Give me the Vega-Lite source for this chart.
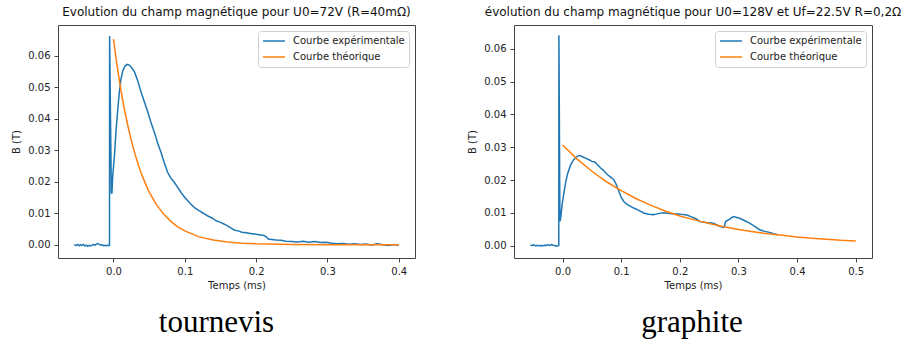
{
  "$schema": "https://vega.github.io/schema/vega-lite/v6.json",
  "padding": {"left": 11, "top": 5, "right": 0, "bottom": 0},
  "background": "white",
  "config": {
    "view": {"stroke": "#444", "strokeWidth": 1},
    "axis": {"labelFont": "DejaVu Sans", "labelFontSize": 10, "labelColor": "#222", "titleFont": "DejaVu Sans", "titleFontSize": 10, "titleFontWeight": "normal", "titleColor": "#222", "tickColor": "#444", "tickSize": 4, "domain": false, "grid": false, "labelPadding": 4},
    "axisY": {"titlePadding": 6},
    "axisX": {"titlePadding": 4},
    "title": {"font": "DejaVu Sans", "fontSize": 12, "fontWeight": "normal", "color": "#111", "offset": 6},
    "legend": {"orient": "top-right", "offset": 6, "padding": 4, "strokeColor": "#d0d0d0", "cornerRadius": 3, "fillColor": "white", "labelFont": "DejaVu Sans", "labelFontSize": 10, "labelColor": "#222", "symbolType": "stroke", "symbolStrokeWidth": 1.5, "symbolSize": 484, "labelOffset": 7, "rowPadding": 4, "clipHeight": 12}
  },
  "datasets": {
    "tournevis": [
      {"t": -0.055, "B": 0.0000, "s": "Courbe expérimentale"},
      {"t": -0.052, "B": -0.0002, "s": "Courbe expérimentale"},
      {"t": -0.050, "B": 0.0001, "s": "Courbe expérimentale"},
      {"t": -0.048, "B": -0.0003, "s": "Courbe expérimentale"},
      {"t": -0.046, "B": 0.0000, "s": "Courbe expérimentale"},
      {"t": -0.044, "B": -0.0002, "s": "Courbe expérimentale"},
      {"t": -0.042, "B": 0.0001, "s": "Courbe expérimentale"},
      {"t": -0.040, "B": -0.0004, "s": "Courbe expérimentale"},
      {"t": -0.038, "B": -0.0001, "s": "Courbe expérimentale"},
      {"t": -0.036, "B": -0.0005, "s": "Courbe expérimentale"},
      {"t": -0.034, "B": -0.0002, "s": "Courbe expérimentale"},
      {"t": -0.032, "B": -0.0004, "s": "Courbe expérimentale"},
      {"t": -0.030, "B": -0.0001, "s": "Courbe expérimentale"},
      {"t": -0.028, "B": 0.0001, "s": "Courbe expérimentale"},
      {"t": -0.026, "B": -0.0002, "s": "Courbe expérimentale"},
      {"t": -0.024, "B": 0.0002, "s": "Courbe expérimentale"},
      {"t": -0.022, "B": 0.0004, "s": "Courbe expérimentale"},
      {"t": -0.020, "B": 0.0001, "s": "Courbe expérimentale"},
      {"t": -0.018, "B": -0.0001, "s": "Courbe expérimentale"},
      {"t": -0.016, "B": 0.0000, "s": "Courbe expérimentale"},
      {"t": -0.014, "B": -0.0003, "s": "Courbe expérimentale"},
      {"t": -0.012, "B": -0.0002, "s": "Courbe expérimentale"},
      {"t": -0.010, "B": -0.0004, "s": "Courbe expérimentale"},
      {"t": -0.008, "B": -0.0001, "s": "Courbe expérimentale"},
      {"t": -0.0060, "B": -0.0003, "s": "Courbe expérimentale"},
      {"t": -0.0056, "B": -0.0002, "s": "Courbe expérimentale"},
      {"t": -0.0054, "B": 0.0662, "s": "Courbe expérimentale"},
      {"t": -0.0030, "B": 0.0164, "s": "Courbe expérimentale"},
      {"t": -0.0022, "B": 0.0164, "s": "Courbe expérimentale"},
      {"t": -0.0010, "B": 0.0220, "s": "Courbe expérimentale"},
      {"t": 0.0014, "B": 0.0284, "s": "Courbe expérimentale"},
      {"t": 0.0035, "B": 0.0360, "s": "Courbe expérimentale"},
      {"t": 0.0061, "B": 0.0432, "s": "Courbe expérimentale"},
      {"t": 0.0085, "B": 0.0490, "s": "Courbe expérimentale"},
      {"t": 0.0107, "B": 0.0528, "s": "Courbe expérimentale"},
      {"t": 0.013, "B": 0.0551, "s": "Courbe expérimentale"},
      {"t": 0.016, "B": 0.0566, "s": "Courbe expérimentale"},
      {"t": 0.019, "B": 0.0572, "s": "Courbe expérimentale"},
      {"t": 0.022, "B": 0.0570, "s": "Courbe expérimentale"},
      {"t": 0.025, "B": 0.0563, "s": "Courbe expérimentale"},
      {"t": 0.0293, "B": 0.0549, "s": "Courbe expérimentale"},
      {"t": 0.034, "B": 0.0520, "s": "Courbe expérimentale"},
      {"t": 0.0386, "B": 0.0485, "s": "Courbe expérimentale"},
      {"t": 0.043, "B": 0.0455, "s": "Courbe expérimentale"},
      {"t": 0.048, "B": 0.0422, "s": "Courbe expérimentale"},
      {"t": 0.052, "B": 0.0392, "s": "Courbe expérimentale"},
      {"t": 0.0572, "B": 0.0358, "s": "Courbe expérimentale"},
      {"t": 0.062, "B": 0.0322, "s": "Courbe expérimentale"},
      {"t": 0.0665, "B": 0.0294, "s": "Courbe expérimentale"},
      {"t": 0.071, "B": 0.0262, "s": "Courbe expérimentale"},
      {"t": 0.0759, "B": 0.0230, "s": "Courbe expérimentale"},
      {"t": 0.080, "B": 0.0213, "s": "Courbe expérimentale"},
      {"t": 0.085, "B": 0.0199, "s": "Courbe expérimentale"},
      {"t": 0.090, "B": 0.0182, "s": "Courbe expérimentale"},
      {"t": 0.095, "B": 0.0165, "s": "Courbe expérimentale"},
      {"t": 0.100, "B": 0.0150, "s": "Courbe expérimentale"},
      {"t": 0.1084, "B": 0.0129, "s": "Courbe expérimentale"},
      {"t": 0.114, "B": 0.0117, "s": "Courbe expérimentale"},
      {"t": 0.120, "B": 0.0108, "s": "Courbe expérimentale"},
      {"t": 0.126, "B": 0.0100, "s": "Courbe expérimentale"},
      {"t": 0.1317, "B": 0.0092, "s": "Courbe expérimentale"},
      {"t": 0.138, "B": 0.0085, "s": "Courbe expérimentale"},
      {"t": 0.144, "B": 0.0076, "s": "Courbe expérimentale"},
      {"t": 0.150, "B": 0.0071, "s": "Courbe expérimentale"},
      {"t": 0.1548, "B": 0.0066, "s": "Courbe expérimentale"},
      {"t": 0.160, "B": 0.0060, "s": "Courbe expérimentale"},
      {"t": 0.165, "B": 0.0053, "s": "Courbe expérimentale"},
      {"t": 0.170, "B": 0.0046, "s": "Courbe expérimentale"},
      {"t": 0.175, "B": 0.0044, "s": "Courbe expérimentale"},
      {"t": 0.180, "B": 0.0040, "s": "Courbe expérimentale"},
      {"t": 0.186, "B": 0.0038, "s": "Courbe expérimentale"},
      {"t": 0.192, "B": 0.0036, "s": "Courbe expérimentale"},
      {"t": 0.198, "B": 0.0034, "s": "Courbe expérimentale"},
      {"t": 0.204, "B": 0.0032, "s": "Courbe expérimentale"},
      {"t": 0.210, "B": 0.0030, "s": "Courbe expérimentale"},
      {"t": 0.214, "B": 0.0026, "s": "Courbe expérimentale"},
      {"t": 0.217, "B": 0.0018, "s": "Courbe expérimentale"},
      {"t": 0.222, "B": 0.0017, "s": "Courbe expérimentale"},
      {"t": 0.228, "B": 0.0015, "s": "Courbe expérimentale"},
      {"t": 0.235, "B": 0.0014, "s": "Courbe expérimentale"},
      {"t": 0.242, "B": 0.0011, "s": "Courbe expérimentale"},
      {"t": 0.250, "B": 0.0010, "s": "Courbe expérimentale"},
      {"t": 0.258, "B": 0.0009, "s": "Courbe expérimentale"},
      {"t": 0.266, "B": 0.0011, "s": "Courbe expérimentale"},
      {"t": 0.274, "B": 0.0008, "s": "Courbe expérimentale"},
      {"t": 0.282, "B": 0.0010, "s": "Courbe expérimentale"},
      {"t": 0.290, "B": 0.0007, "s": "Courbe expérimentale"},
      {"t": 0.298, "B": 0.0008, "s": "Courbe expérimentale"},
      {"t": 0.306, "B": 0.0005, "s": "Courbe expérimentale"},
      {"t": 0.314, "B": 0.0003, "s": "Courbe expérimentale"},
      {"t": 0.322, "B": 0.0004, "s": "Courbe expérimentale"},
      {"t": 0.330, "B": 0.0002, "s": "Courbe expérimentale"},
      {"t": 0.338, "B": 0.0003, "s": "Courbe expérimentale"},
      {"t": 0.346, "B": 0.0001, "s": "Courbe expérimentale"},
      {"t": 0.354, "B": 0.0002, "s": "Courbe expérimentale"},
      {"t": 0.362, "B": -0.0001, "s": "Courbe expérimentale"},
      {"t": 0.370, "B": 0.0003, "s": "Courbe expérimentale"},
      {"t": 0.378, "B": 0.0000, "s": "Courbe expérimentale"},
      {"t": 0.386, "B": -0.0002, "s": "Courbe expérimentale"},
      {"t": 0.394, "B": 0.0001, "s": "Courbe expérimentale"},
      {"t": 0.400, "B": -0.0002, "s": "Courbe expérimentale"},
      {"t": 0.000, "B": 0.0652, "s": "Courbe théorique"},
      {"t": 0.005, "B": 0.0568, "s": "Courbe théorique"},
      {"t": 0.010, "B": 0.0496, "s": "Courbe théorique"},
      {"t": 0.015, "B": 0.0433, "s": "Courbe théorique"},
      {"t": 0.020, "B": 0.0379, "s": "Courbe théorique"},
      {"t": 0.025, "B": 0.0331, "s": "Courbe théorique"},
      {"t": 0.030, "B": 0.0289, "s": "Courbe théorique"},
      {"t": 0.035, "B": 0.0252, "s": "Courbe théorique"},
      {"t": 0.040, "B": 0.0220, "s": "Courbe théorique"},
      {"t": 0.045, "B": 0.0193, "s": "Courbe théorique"},
      {"t": 0.050, "B": 0.0168, "s": "Courbe théorique"},
      {"t": 0.060, "B": 0.0128, "s": "Courbe théorique"},
      {"t": 0.070, "B": 0.0098, "s": "Courbe théorique"},
      {"t": 0.080, "B": 0.0075, "s": "Courbe théorique"},
      {"t": 0.090, "B": 0.0057, "s": "Courbe théorique"},
      {"t": 0.100, "B": 0.0044, "s": "Courbe théorique"},
      {"t": 0.120, "B": 0.0025, "s": "Courbe théorique"},
      {"t": 0.140, "B": 0.0015, "s": "Courbe théorique"},
      {"t": 0.160, "B": 0.0009, "s": "Courbe théorique"},
      {"t": 0.180, "B": 0.0005, "s": "Courbe théorique"},
      {"t": 0.200, "B": 0.0003, "s": "Courbe théorique"},
      {"t": 0.250, "B": 0.0001, "s": "Courbe théorique"},
      {"t": 0.300, "B": 0.0000, "s": "Courbe théorique"},
      {"t": 0.350, "B": 0.0000, "s": "Courbe théorique"},
      {"t": 0.400, "B": 0.0000, "s": "Courbe théorique"}
    ],
    "graphite": [
      {"t": -0.055, "B": 0.0002, "s": "Courbe expérimentale"},
      {"t": -0.052, "B": 0.0001, "s": "Courbe expérimentale"},
      {"t": -0.049, "B": 0.0003, "s": "Courbe expérimentale"},
      {"t": -0.046, "B": 0.0000, "s": "Courbe expérimentale"},
      {"t": -0.043, "B": 0.0002, "s": "Courbe expérimentale"},
      {"t": -0.040, "B": 0.0000, "s": "Courbe expérimentale"},
      {"t": -0.037, "B": 0.0001, "s": "Courbe expérimentale"},
      {"t": -0.034, "B": 0.0000, "s": "Courbe expérimentale"},
      {"t": -0.031, "B": 0.0002, "s": "Courbe expérimentale"},
      {"t": -0.028, "B": 0.0001, "s": "Courbe expérimentale"},
      {"t": -0.025, "B": 0.0003, "s": "Courbe expérimentale"},
      {"t": -0.022, "B": 0.0001, "s": "Courbe expérimentale"},
      {"t": -0.019, "B": 0.0004, "s": "Courbe expérimentale"},
      {"t": -0.016, "B": 0.0002, "s": "Courbe expérimentale"},
      {"t": -0.013, "B": 0.0001, "s": "Courbe expérimentale"},
      {"t": -0.010, "B": -0.0001, "s": "Courbe expérimentale"},
      {"t": -0.0075, "B": 0.0000, "s": "Courbe expérimentale"},
      {"t": -0.0064, "B": 0.0001, "s": "Courbe expérimentale"},
      {"t": -0.0062, "B": 0.0641, "s": "Courbe expérimentale"},
      {"t": -0.0045, "B": 0.0075, "s": "Courbe expérimentale"},
      {"t": -0.0035, "B": 0.0080, "s": "Courbe expérimentale"},
      {"t": -0.0020, "B": 0.0105, "s": "Courbe expérimentale"},
      {"t": 0.0000, "B": 0.0135, "s": "Courbe expérimentale"},
      {"t": 0.0030, "B": 0.0168, "s": "Courbe expérimentale"},
      {"t": 0.0056, "B": 0.0196, "s": "Courbe expérimentale"},
      {"t": 0.0090, "B": 0.0222, "s": "Courbe expérimentale"},
      {"t": 0.0140, "B": 0.0247, "s": "Courbe expérimentale"},
      {"t": 0.0190, "B": 0.0262, "s": "Courbe expérimentale"},
      {"t": 0.0254, "B": 0.0273, "s": "Courbe expérimentale"},
      {"t": 0.0300, "B": 0.0275, "s": "Courbe expérimentale"},
      {"t": 0.0340, "B": 0.0271, "s": "Courbe expérimentale"},
      {"t": 0.0400, "B": 0.0266, "s": "Courbe expérimentale"},
      {"t": 0.0450, "B": 0.0262, "s": "Courbe expérimentale"},
      {"t": 0.0500, "B": 0.0257, "s": "Courbe expérimentale"},
      {"t": 0.0550, "B": 0.0255, "s": "Courbe expérimentale"},
      {"t": 0.0600, "B": 0.0246, "s": "Courbe expérimentale"},
      {"t": 0.0650, "B": 0.0237, "s": "Courbe expérimentale"},
      {"t": 0.0700, "B": 0.0229, "s": "Courbe expérimentale"},
      {"t": 0.0763, "B": 0.0217, "s": "Courbe expérimentale"},
      {"t": 0.0820, "B": 0.0209, "s": "Courbe expérimentale"},
      {"t": 0.0875, "B": 0.0201, "s": "Courbe expérimentale"},
      {"t": 0.0920, "B": 0.0185, "s": "Courbe expérimentale"},
      {"t": 0.0960, "B": 0.0166, "s": "Courbe expérimentale"},
      {"t": 0.1000, "B": 0.0148, "s": "Courbe expérimentale"},
      {"t": 0.1044, "B": 0.0135, "s": "Courbe expérimentale"},
      {"t": 0.1100, "B": 0.0126, "s": "Courbe expérimentale"},
      {"t": 0.1214, "B": 0.0115, "s": "Courbe expérimentale"},
      {"t": 0.1300, "B": 0.0108, "s": "Courbe expérimentale"},
      {"t": 0.1383, "B": 0.0100, "s": "Courbe expérimentale"},
      {"t": 0.1470, "B": 0.0096, "s": "Courbe expérimentale"},
      {"t": 0.1550, "B": 0.0095, "s": "Courbe expérimentale"},
      {"t": 0.1630, "B": 0.0098, "s": "Courbe expérimentale"},
      {"t": 0.1720, "B": 0.0101, "s": "Courbe expérimentale"},
      {"t": 0.1800, "B": 0.0099, "s": "Courbe expérimentale"},
      {"t": 0.1890, "B": 0.0097, "s": "Courbe expérimentale"},
      {"t": 0.1980, "B": 0.0097, "s": "Courbe expérimentale"},
      {"t": 0.2050, "B": 0.0095, "s": "Courbe expérimentale"},
      {"t": 0.2120, "B": 0.0094, "s": "Courbe expérimentale"},
      {"t": 0.2200, "B": 0.0088, "s": "Courbe expérimentale"},
      {"t": 0.2290, "B": 0.0081, "s": "Courbe expérimentale"},
      {"t": 0.2340, "B": 0.0074, "s": "Courbe expérimentale"},
      {"t": 0.2450, "B": 0.0071, "s": "Courbe expérimentale"},
      {"t": 0.2570, "B": 0.0069, "s": "Courbe expérimentale"},
      {"t": 0.2650, "B": 0.0062, "s": "Courbe expérimentale"},
      {"t": 0.2740, "B": 0.0056, "s": "Courbe expérimentale"},
      {"t": 0.2760, "B": 0.0058, "s": "Courbe expérimentale"},
      {"t": 0.2780, "B": 0.0074, "s": "Courbe expérimentale"},
      {"t": 0.2850, "B": 0.0081, "s": "Courbe expérimentale"},
      {"t": 0.2910, "B": 0.0089, "s": "Courbe expérimentale"},
      {"t": 0.2960, "B": 0.0087, "s": "Courbe expérimentale"},
      {"t": 0.3020, "B": 0.0084, "s": "Courbe expérimentale"},
      {"t": 0.3100, "B": 0.0077, "s": "Courbe expérimentale"},
      {"t": 0.3190, "B": 0.0069, "s": "Courbe expérimentale"},
      {"t": 0.3270, "B": 0.0060, "s": "Courbe expérimentale"},
      {"t": 0.3360, "B": 0.0049, "s": "Courbe expérimentale"},
      {"t": 0.3450, "B": 0.0044, "s": "Courbe expérimentale"},
      {"t": 0.3530, "B": 0.0041, "s": "Courbe expérimentale"},
      {"t": 0.3600, "B": 0.0037, "s": "Courbe expérimentale"},
      {"t": 0.3670, "B": 0.0034, "s": "Courbe expérimentale"},
      {"t": 0.000, "B": 0.0307, "s": "Courbe théorique"},
      {"t": 0.025, "B": 0.0264, "s": "Courbe théorique"},
      {"t": 0.050, "B": 0.0227, "s": "Courbe théorique"},
      {"t": 0.075, "B": 0.0195, "s": "Courbe théorique"},
      {"t": 0.100, "B": 0.0168, "s": "Courbe théorique"},
      {"t": 0.125, "B": 0.0144, "s": "Courbe théorique"},
      {"t": 0.150, "B": 0.0124, "s": "Courbe théorique"},
      {"t": 0.175, "B": 0.0106, "s": "Courbe théorique"},
      {"t": 0.200, "B": 0.0091, "s": "Courbe théorique"},
      {"t": 0.225, "B": 0.0079, "s": "Courbe théorique"},
      {"t": 0.250, "B": 0.0068, "s": "Courbe théorique"},
      {"t": 0.275, "B": 0.0058, "s": "Courbe théorique"},
      {"t": 0.300, "B": 0.0050, "s": "Courbe théorique"},
      {"t": 0.325, "B": 0.0043, "s": "Courbe théorique"},
      {"t": 0.350, "B": 0.0037, "s": "Courbe théorique"},
      {"t": 0.375, "B": 0.0032, "s": "Courbe théorique"},
      {"t": 0.400, "B": 0.0027, "s": "Courbe théorique"},
      {"t": 0.425, "B": 0.0023, "s": "Courbe théorique"},
      {"t": 0.450, "B": 0.0020, "s": "Courbe théorique"},
      {"t": 0.475, "B": 0.0017, "s": "Courbe théorique"},
      {"t": 0.500, "B": 0.0015, "s": "Courbe théorique"}
    ]
  },
  "resolve": {"scale": {"color": "independent"}, "legend": {"color": "independent"}},
  "spacing": 51,
  "hconcat": [
    {
      "resolve": {"scale": {"color": "independent"}, "legend": {"color": "independent"}},
      "spacing": 10,
      "vconcat": [
        {
          "title": {"text": "Evolution du champ magnétique pour U0=72V (R=40mΩ)"},
          "width": 357,
          "height": 233,
          "data": {"name": "tournevis"},
          "mark": {"type": "line", "strokeWidth": 1.5, "clip": true},
          "encoding": {
            "x": {"field": "t", "type": "quantitative", "title": "Temps (ms)", "scale": {"domain": [-0.0778, 0.4228], "nice": false, "zero": false}, "axis": {"values": [0, 0.1, 0.2, 0.3, 0.4], "format": ".1f"}},
            "y": {"field": "B", "type": "quantitative", "title": "B (T)", "scale": {"domain": [-0.0042, 0.0697], "nice": false, "zero": false}, "axis": {"values": [0, 0.01, 0.02, 0.03, 0.04, 0.05, 0.06], "format": ".2f"}},
            "color": {"field": "s", "type": "nominal", "scale": {"domain": ["Courbe expérimentale", "Courbe théorique"], "range": ["#1f77b4", "#ff7f0e"]}, "legend": {"title": null}}
          }
        },
        {
          "width": 357,
          "height": 44,
          "view": {"stroke": null},
          "data": {"values": [{"c": "tournevis"}]},
          "mark": {"type": "text", "font": "Liberation Serif", "fontSize": 31, "color": "#000", "baseline": "middle", "align": "center", "dx": -20},
          "encoding": {"text": {"field": "c", "type": "nominal"}}
        }
      ]
    },
    {
      "resolve": {"scale": {"color": "independent"}, "legend": {"color": "independent"}},
      "spacing": 10,
      "vconcat": [
        {
          "title": {"text": "évolution du champ magnétique pour U0=128V et Uf=22.5V R=0,2Ω"},
          "width": 358,
          "height": 233,
          "data": {"name": "graphite"},
          "mark": {"type": "line", "strokeWidth": 1.5, "clip": true},
          "encoding": {
            "x": {"field": "t", "type": "quantitative", "title": "Temps (ms)", "scale": {"domain": [-0.0828, 0.5278], "nice": false, "zero": false}, "axis": {"values": [0, 0.1, 0.2, 0.3, 0.4, 0.5], "format": ".1f"}},
            "y": {"field": "B", "type": "quantitative", "title": "B (T)", "scale": {"domain": [-0.0037, 0.0672], "nice": false, "zero": false}, "axis": {"values": [0, 0.01, 0.02, 0.03, 0.04, 0.05, 0.06], "format": ".2f"}},
            "color": {"field": "s", "type": "nominal", "scale": {"domain": ["Courbe expérimentale", "Courbe théorique"], "range": ["#1f77b4", "#ff7f0e"]}, "legend": {"title": null}}
          }
        },
        {
          "width": 358,
          "height": 44,
          "view": {"stroke": null},
          "data": {"values": [{"c": "graphite"}]},
          "mark": {"type": "text", "font": "Liberation Serif", "fontSize": 31, "color": "#000", "baseline": "middle", "align": "center", "dx": -1},
          "encoding": {"text": {"field": "c", "type": "nominal"}}
        }
      ]
    }
  ]
}
